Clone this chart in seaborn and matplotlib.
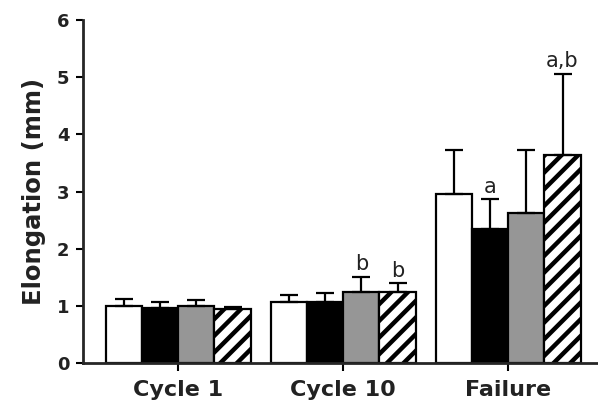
import numpy as np
import pandas as pd
import matplotlib
matplotlib.use("Agg")
import matplotlib.pyplot as plt
import seaborn as sns

# values
conditions = ["Cycle 1", "Cycle 10", "Failure"]
groups = ["G1", "G2", "G3", "G4"]
mean_g1 = [1.00, 1.07, 2.96]
mean_g2 = [0.96, 1.07, 2.35]
mean_g3 = [1.00, 1.24, 2.62]
mean_g4 = [0.95, 1.24, 3.64]
sd_g1 = [0.12, 0.12, 0.77]
sd_g2 = [0.11, 0.15, 0.52]
sd_g3 = [0.10, 0.27, 1.11]
sd_g4 = [0.03, 0.16, 1.42]
# significance letters: (condition index, group index, text)
letters = [(1, 2, "b"), (1, 3, "b"), (2, 1, "a"), (2, 3, "a,b")]

colors = ["white", "black", "#969696", "white"]

sns.set_style("ticks")
plt.rcParams['font.family'] = ['DejaVu Sans']
plt.rcParams['hatch.linewidth'] = 3.2
plt.rcParams['hatch.color'] = 'black'

means = [mean_g1, mean_g2, mean_g3, mean_g4]
sds = [sd_g1, sd_g2, sd_g3, sd_g4]
df = pd.DataFrame({
    "condition": np.tile(conditions, len(groups)),
    "group": np.repeat(groups, len(conditions)),
    "value": np.concatenate(means),
})

fig = plt.figure(figsize=(5.98, 4.09), dpi=100)
ax = fig.add_axes([0.139, 0.1125, 0.861, 0.8385])

sns.barplot(data=df, x="condition", y="value", hue="group", order=conditions,
            hue_order=groups, palette=colors, width=0.88, gap=0,
            edgecolor="black", linewidth=1.6, errorbar=None, legend=False,
            saturation=1, ax=ax)

bar_conts = list(ax.containers)
for gi, cont in enumerate(bar_conts):
    for ci, bar in enumerate(cont):
        if gi == 3:
            bar.set_hatch('//')
        x = bar.get_x() + bar.get_width() / 2
        top = bar.get_height()
        err = sds[gi][ci]
        ax.errorbar([x], [top], yerr=[[0], [err]], fmt='none', ecolor='black',
                    elinewidth=1.6, capsize=6.5, capthick=1.6, zorder=1)

for ci, gi, txt in letters:
    bar = bar_conts[gi][ci]
    x = bar.get_x() + bar.get_width() / 2
    y = bar.get_height() + sds[gi][ci] + 0.04
    ax.text(x, y, txt, ha='center', va='bottom', fontsize=15, color='#222222')

ax.set_ylim(0, 6)
ax.set_xlim(-0.576, 2.545)
ax.set_yticks(range(0, 7))
ax.set_xlabel("")
ax.set_ylabel("Elongation (mm)", fontsize=17.5, fontweight='bold', labelpad=8,
              color='#222222')
ax.tick_params(axis='y', labelsize=13, width=1.5, length=5, pad=5, colors='black')
ax.tick_params(axis='x', labelsize=16, width=1.5, length=6, pad=6, colors='black')
for lab in ax.get_xticklabels() + ax.get_yticklabels():
    lab.set_fontweight('bold')
    lab.set_color('#222222')
for s in ['left', 'bottom']:
    ax.spines[s].set_linewidth(2)
sns.despine(ax=ax)

fig.savefig("out.png", dpi=100)
